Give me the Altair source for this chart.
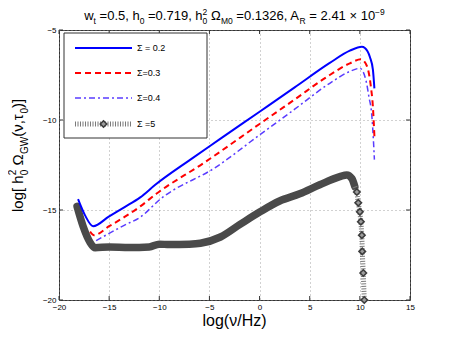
import altair as alt
import pandas as pd

# ---------------- data ----------------
x_ticks = [-20, -15, -10, -5, 0, 5, 10, 15]
y_ticks = [-20, -15, -10, -5]

blue_x = [-18.1, -17.4, -16.6, -15.0, -13.5, -11.9, -10.4, -6.9, -4.0, 0.0, 3.5, 7.0, 9.0, 10.2, 10.5, 11.0, 11.3, 11.45]
blue_y = [-14.4, -15.3, -15.9, -15.35, -14.85, -14.3, -13.6, -12.2, -11.08, -9.54, -8.19, -6.83, -6.15, -5.93, -6.0, -6.5, -7.2, -8.24]

red_x = [-16.9, -16.5, -15.0, -13.5, -11.9, -10.3, -5.6, 0.0, 3.5, 7.0, 9.0, 10.1, 10.7, 11.1, 11.3, 11.45]
red_y = [-16.2, -16.4, -15.9, -15.4, -14.8, -14.1, -12.4, -10.22, -8.86, -7.5, -6.85, -6.63, -7.0, -8.15, -9.26, -10.9]

dd_x = [-16.3, -15.0, -13.5, -11.9, -9.9, -4.3, 0.0, 3.5, 7.0, 9.0, 10.0, 10.6, 10.9, 11.2, 11.35, 11.45]
dd_y = [-16.7, -16.3, -15.85, -15.4, -14.4, -12.6, -10.83, -9.4, -7.96, -7.3, -7.13, -7.78, -8.7, -9.8, -11.1, -12.2]

gray_x = [-18.2, -17.6, -16.9, -16.4, -15.0, -13.0, -11.0, -10.0, -9.0, -7.0, -5.9, -3.9, -1.95, 0.05, 2.0, 4.0, 6.0, 8.0, 8.7, 9.2, 9.5]
gray_y = [-14.8, -15.9, -16.8, -17.1, -17.05, -17.08, -17.05, -16.9, -16.92, -16.9, -16.85, -16.5, -15.8, -15.1, -14.5, -14.1, -13.6, -13.15, -13.05, -13.25, -13.7]

drop_x = [9.5, 9.7, 9.84, 10.0, 10.1, 10.2, 10.24, 10.34, 10.44]
drop_y = [-13.7, -14.0, -14.6, -15.1, -15.65, -16.4, -17.3, -18.5, -20.0]

legend_labels = ["\u03a3 = 0.2", "\u03a3=0.3", "\u03a3=0.4", "\u03a3 =5"]

# ---------------- styling ----------------
F = "Liberation Sans"
W, H = 351, 270
XS = alt.Scale(domain=[-20, 15], nice=False, zero=False)
YS = alt.Scale(domain=[-20, -5], nice=False, zero=False)

common_axis = dict(grid=True, gridDash=[1, 3], gridColor="#8c8c8c", gridWidth=0.8,
                   ticks=False, domain=False, labelFontSize=8, labelFont=F,
                   labelColor="#000", labelFlush=False, labelOverlap=False, title=None)
XAX = alt.Axis(values=x_ticks, labelPadding=3, **common_axis)
YAX = alt.Axis(values=y_ticks, labelPadding=3, **common_axis)

def X(f):
    return alt.X(f + ":Q", scale=XS, axis=XAX, title=None)

def Y(f):
    return alt.Y(f + ":Q", scale=YS, axis=YAX, title=None)

dummy = pd.DataFrame({"a": [0]})
layers = []

def series(xs, ys, **mk):
    df = pd.DataFrame({"x": xs, "y": ys, "o": list(range(len(xs)))})
    return alt.Chart(df).mark_line(**mk).encode(x=X("x"), y=Y("y"), order="o:Q")

# gray Σ=5 curve
layers.append(series(gray_x, gray_y, color="#4a4a4a", strokeWidth=7.5,
                     strokeCap="round", strokeJoin="round", interpolate="monotone"))
layers.append(series(drop_x, drop_y, color="#7a7a7a", strokeWidth=5, strokeDash=[1, 1.5]))
dropdf = pd.DataFrame({"x": drop_x[1:], "y": drop_y[1:]})
layers.append(alt.Chart(dropdf).mark_point(shape="diamond", size=42, stroke="#3d3d3d",
                                           strokeWidth=1.6, fill="#9c9c9c", fillOpacity=1,
                                           opacity=1).encode(x=X("x"), y=Y("y")))
# colored curves
layers.append(series(dd_x, dd_y, color="#5a3cff", strokeWidth=1.5,
                     strokeDash=[6, 3, 2, 3], interpolate="monotone"))
layers.append(series(red_x, red_y, color="#ff0000", strokeWidth=2,
                     strokeDash=[6, 4], interpolate="monotone"))
layers.append(series(blue_x, blue_y, color="#0000ff", strokeWidth=2, interpolate="monotone"))

# inner tick marks (MATLAB style) on all four sides
xt = pd.DataFrame({"v": x_ticks})
yt = pd.DataFrame({"v": y_ticks})
layers.append(alt.Chart(xt).mark_rule(color="#333", strokeWidth=1).encode(
    x=X("v"), y=alt.value(H), y2=alt.value(H - 4)))
layers.append(alt.Chart(xt).mark_rule(color="#333", strokeWidth=1).encode(
    x=X("v"), y=alt.value(0), y2=alt.value(4)))
layers.append(alt.Chart(yt).mark_rule(color="#333", strokeWidth=1).encode(
    y=Y("v"), x=alt.value(0), x2=alt.value(4)))
layers.append(alt.Chart(yt).mark_rule(color="#333", strokeWidth=1).encode(
    y=Y("v"), x=alt.value(W), x2=alt.value(W - 4)))

# legend box
layers.append(alt.Chart(dummy).mark_rect(fill="white", stroke="#333", strokeWidth=1).encode(
    x=alt.value(5), x2=alt.value(148), y=alt.value(3), y2=alt.value(108)))
rows = [18, 43, 68, 94]
leg_styles = [dict(color="#0000ff", strokeWidth=2),
              dict(color="#ff0000", strokeWidth=2, strokeDash=[6, 4]),
              dict(color="#5a3cff", strokeWidth=1.5, strokeDash=[6, 3, 2, 3]),
              dict(color="#7a7a7a", strokeWidth=5, strokeDash=[1, 1.5])]
for r, st, lab in zip(rows, leg_styles, legend_labels):
    layers.append(alt.Chart(dummy).mark_rule(**st).encode(
        x=alt.value(16), x2=alt.value(73), y=alt.value(r)))
    layers.append(alt.Chart(dummy).mark_text(text=lab, align="left", baseline="middle",
                                             fontSize=9, font=F, color="#000").encode(
        x=alt.value(78), y=alt.value(r)))
layers.append(alt.Chart(dummy).mark_point(shape="diamond", size=42, stroke="#3d3d3d",
                                          strokeWidth=1.6, fill="#9c9c9c", fillOpacity=1,
                                          opacity=1).encode(x=alt.value(44.5), y=alt.value(rows[3])))

# ---------------- rich text (title, y label, x label) ----------------
CW = {" ": 278, "=": 584, ".": 278, ",": 278, "h": 556, "w": 722, "t": 278, "\u03a9": 768,
      "M": 833, "A": 667, "R": 722, "\u00d7": 584, "\u2212": 584, "G": 778, "W": 944,
      "l": 222, "o": 556, "g": 556, "[": 278, "]": 278, "(": 333, ")": 333,
      "\u03bd": 500, "\u03c4": 441, "H": 722, "z": 500, "/": 278}

def tw(s, fs):
    return sum(CW.get(c, 556) for c in s) / 1000.0 * fs

def txt(s, px, py, fs, angle=None):
    kw = dict(text=s, align="left", baseline="alphabetic", fontSize=fs, font=F, color="#000")
    if angle is not None:
        kw["angle"] = angle
    return alt.Chart(dummy).mark_text(**kw).encode(x=alt.value(px), y=alt.value(py))

def seg_width(s, k, mf, sf):
    if k == "m":
        return tw(s, mf)
    if k == "both":
        return tw(s[0], sf)
    return tw(s, sf)

# title
MF, SF = 13, 8.5
title_segs = [("w", "m"), ("t", "sub"), (" =0.5, h", "m"), ("0", "sub"),
              (" =0.719, h", "m"), ("20", "both"), (" \u03a9", "m"), ("M0", "sub"),
              (" =0.1326, A", "m"), ("R", "sub"), (" = 2.41 \u00d7 10", "m"), ("\u22129", "sup")]
total = sum(seg_width(s, k, MF, SF) for s, k in title_segs)
cx = W / 2 - total / 2
base = -10.5
for s, k in title_segs:
    if k == "m":
        lead = len(s) - len(s.lstrip(" "))
        cx += tw(" " * lead, MF)
        s = s.lstrip(" ")
        layers.append(txt(s, cx, base, MF)); cx += tw(s, MF)
    elif k == "sub":
        layers.append(txt(s, cx, base + 4.5, SF)); cx += tw(s, SF)
    elif k == "sup":
        layers.append(txt(s, cx, base - 5, SF)); cx += tw(s, SF)
    else:
        layers.append(txt(s[0], cx, base - 5, SF))
        layers.append(txt(s[1], cx, base + 4.5, SF)); cx += tw(s[0], SF)

# y label (rotated)
YF, YSF = 15, 10
ylab_segs = [("log[ h", "m"), ("20", "both"), (" \u03a9", "m"), ("GW", "sub"),
             ("(\u03bd,\u03c4", "m"), ("0", "sub"), (")]", "m")]
ybase = -36
cy = 182
for s, k in ylab_segs:
    if k == "m":
        lead = len(s) - len(s.lstrip(" "))
        cy -= tw(" " * lead, YF)
        s = s.lstrip(" ")
        layers.append(txt(s, ybase, cy, YF, 270)); cy -= tw(s, YF)
    elif k == "sub":
        layers.append(txt(s, ybase + 4.5, cy, YSF, 270)); cy -= tw(s, YSF)
    else:
        layers.append(txt(s[0], ybase - 7.5, cy, YSF, 270))
        layers.append(txt(s[1], ybase + 4.5, cy, YSF, 270)); cy -= tw(s[0], YSF)

# x label
layers.append(alt.Chart(dummy).mark_text(text="log(\u03bd/Hz)", align="center", baseline="alphabetic",
                                         fontSize=16, font=F, color="#000").encode(
    x=alt.value(W / 2), y=alt.value(296)))

chart = alt.layer(*layers).properties(
    width=W, height=H,
    autosize=alt.AutoSizeParams(type="none"),
    padding={"left": 51, "top": 22, "right": 35, "bottom": 30},
).configure_view(stroke="#333", strokeWidth=1)

chart.save("out.html", embed_options={"renderer": "svg", "actions": False})
